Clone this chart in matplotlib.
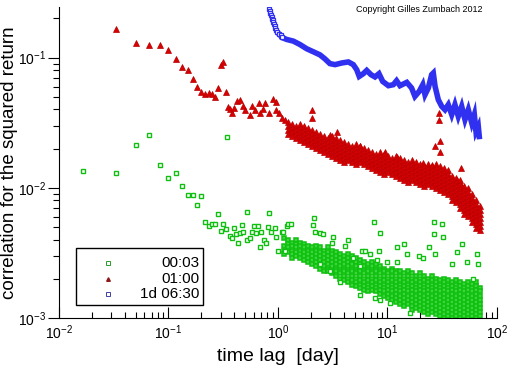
import numpy as np
import matplotlib
matplotlib.use("Agg")
import matplotlib.pyplot as plt
from matplotlib.patches import Rectangle

plt.rcParams["font.family"] = ["Liberation Sans", "DejaVu Sans"]
plt.rcParams["mathtext.fontset"] = "custom"
plt.rcParams["mathtext.rm"] = "Liberation Sans"
plt.rcParams["mathtext.default"] = "regular"

# --- 00:03 returns (green): sparse part and outliers
green_lag = [0.0167, 0.0333, 0.05, 0.0667, 0.0833, 0.1, 0.117, 0.133, 0.15, 0.167,
             0.183, 0.2, 0.217, 0.233, 0.25, 0.267, 0.283, 0.3, 0.317, 0.333,
             0.345, 0.367, 0.383, 0.4, 0.417, 0.433, 0.45, 0.467, 0.483, 0.517,
             0.525, 0.55, 0.575, 0.6, 0.633, 0.65, 0.683, 0.7, 0.75, 0.783,
             0.817, 0.833, 0.867, 0.933, 0.967, 1.0, 1.08, 1.1, 1.16, 1.2,
             1.24, 1.31, 2.1, 2.13, 2.18, 2.42, 2.59, 3.09, 3.2, 4.09,
             4.39, 7.57, 8.55, 5.81, 6.23, 8.36, 12.3, 14.2, 24.1, 26.6,
             31.3, 26.8, 31.9, 48.2, 43.4, 66.1, 52.9, 66.6, 60.0, 38.5,
             27.2, 19.5, 21.2, 15.0, 12.1, 10.0, 8.0, 6.92, 4.87, 5.6,
             3.68, 5.6, 8.54, 10.6, 16.0, 7.7, 3.0, 2.42]
green_corr = [0.0134, 0.0130, 0.0213, 0.0254, 0.0150, 0.0119, 0.0130, 0.0103, 0.0088, 0.0088,
              0.0074, 0.0086, 0.0055, 0.0051, 0.0053, 0.0053, 0.0063, 0.0047, 0.0053, 0.0048,
              0.0245, 0.0043, 0.0041, 0.0049, 0.0044, 0.0038, 0.0045, 0.0052, 0.0046, 0.0040,
              0.0065, 0.0041, 0.0046, 0.0051, 0.0045, 0.0051, 0.0035, 0.0046, 0.0040, 0.0038,
              0.0050, 0.0064, 0.0046, 0.0049, 0.0042, 0.0033, 0.0046, 0.0046, 0.0033, 0.0051,
              0.0053, 0.0053, 0.0052, 0.0059, 0.0046, 0.0045, 0.0044, 0.0038, 0.0042, 0.0036,
              0.0040, 0.0055, 0.0045, 0.0033, 0.0033, 0.0033, 0.0035, 0.0037, 0.0035, 0.0055,
              0.0053, 0.0044, 0.0042, 0.0037, 0.0032, 0.0031, 0.0027, 0.0026, 0.0020, 0.0026,
              0.0031, 0.0030, 0.0029, 0.0031, 0.0027, 0.0027, 0.0028, 0.0031, 0.0029, 0.0025,
              0.0019, 0.0015, 0.00137, 0.0013, 0.0011, 0.00143, 0.0023, 0.0026]

# lags (day) of the dense part, read as columns
band_lag = [1.13, 1.23, 1.34, 1.46, 1.59, 1.73, 1.88, 2.04, 2.22, 2.42,
            2.63, 2.86, 3.11, 3.39, 3.68, 4.0, 4.36, 4.74, 5.16, 5.6,
            6.1, 6.64, 7.22, 7.85, 8.54, 9.29, 10.1, 11.0, 12.0, 13.0,
            14.2, 15.4, 16.7, 18.2, 19.8, 21.5, 23.4, 25.5, 27.7, 30.2,
            32.8, 35.7, 38.8, 42.2, 45.9, 50.0, 54.4, 59.1, 64.3, 69.9]

green_band = [
    [.0041, .0036, .0033, .0031],
    [.0040, .0037, .0035, .0032],
    [.0038, .0036, .0033, .0031, .0029],
    [.0040, .0037, .0035, .0032, .0030],
    [.0038, .0036, .0033, .0031, .0029],
    [.0037, .0035, .0032, .0030, .0028],
    [.0036, .0033, .0031, .0029, .0027],
    [.0035, .0032, .0030, .0028, .0026],
    [.0036, .0033, .0031, .0029, .0027, .0025],
    [.0035, .0032, .0030, .0028, .0026, .0024],
    [.0033, .0031, .0029, .0027, .0025, .0023],
    [.0035, .0032, .0030, .0028, .0026, .0024, .0023],
    [.0033, .0031, .0029, .0027, .0025, .0023, .0022],
    [.0032, .0030, .0028, .0026, .0024, .0023, .0021],
    [.0031, .0029, .0027, .0025, .0023, .0022, .0020],
    [.0030, .0028, .0026, .0024, .0023, .0021, .00196],
    [.0031, .0029, .0027, .0025, .0023, .0022, .0020, .0019],
    [.0030, .0028, .0026, .0024, .0023, .0021, .00196, .0018],
    [.0029, .0027, .0025, .0023, .0022, .0020, .0019, .00176],
    [.0028, .0026, .0024, .0023, .0021, .00196, .0018, .0017],
    [.0027, .0025, .0023, .0022, .0020, .0019, .00176, .00164],
    [.0026, .0024, .0023, .0021, .00196, .0018, .0017, .0016],
    [.0027, .0025, .0023, .0022, .0020, .0019, .00176, .00164],
    [.0026, .0024, .0023, .0021, .00196, .0018, .0017, .0016],
    [.0025, .0023, .0022, .0020, .0019, .00176, .00164, .00153],
    [.0024, .0023, .0021, .00196, .0018, .0017, .0016, .00148],
    [.0023, .0022, .0020, .0019, .00176, .00164, .00153, .00143],
    [.0024, .0023, .0021, .00196, .0018, .0017, .0016, .00148, .00138],
    [.0023, .0022, .0020, .0019, .00176, .00164, .00153, .00143, .00133],
    [.0023, .0021, .00196, .0018, .0017, .0016, .00148, .00138, .00128],
    [.0022, .0020, .0019, .00176, .00164, .00153, .00143, .00133, .00124],
    [.0023, .0021, .00196, .0018, .0017, .0016, .00148, .00138, .00128],
    [.0022, .0020, .0019, .00176, .00164, .00153, .00143, .00133, .00124, .00115],
    [.0021, .00196, .0018, .0017, .0016, .00148, .00138, .00128, .00119],
    [.0022, .0020, .0019, .00176, .00164, .00153, .00143, .00133, .00124, .00115],
    [.0021, .00196, .0018, .0017, .0016, .00148, .00138, .00128, .00119, .00111],
    [.0020, .0019, .00176, .00164, .00153, .00143, .00133, .00124, .00115, .00107],
    [.0021, .00196, .0018, .0017, .0016, .00148, .00138, .00128, .00119, .00111],
    [.0020, .0019, .00176, .00164, .00153, .00143, .00133, .00124, .00115, .00107],
    [.00196, .0018, .0017, .0016, .00148, .00138, .00128, .00119, .00111, .00103],
    [.0020, .0019, .00176, .00164, .00153, .00143, .00133, .00124, .00115, .00107, .0010],
    [.00196, .0018, .0017, .0016, .00148, .00138, .00128, .00119, .00111, .00103],
    [.0019, .00176, .00164, .00153, .00143, .00133, .00124, .00115, .00107, .0010],
    [.00196, .0018, .0017, .0016, .00148, .00138, .00128, .00119, .00111, .00103],
    [.0019, .00176, .00164, .00153, .00143, .00133, .00124, .00115, .00107, .0010],
    [.00182, .0017, .0016, .00148, .00138, .00128, .00119, .00111, .00103],
    [.0019, .00176, .00164, .00153, .00143, .00133, .00124, .00115, .00107, .0010],
    [.00182, .0017, .0016, .00148, .00138, .00128, .00119, .00111, .00103],
    [.00189, .00176, .00164, .00153, .00143, .00133, .00124, .00115, .00107, .0010],
    [.0017, .0016, .00148, .00138, .00128, .00119, .00111, .00103],
]

# --- 01:00 returns (red): sparse part and outliers
red_lag = [0.0333, 0.05, 0.0667, 0.0833, 0.1, 0.117, 0.133, 0.15, 0.167, 0.183,
           0.2, 0.217, 0.233, 0.25, 0.267, 0.283, 0.3, 0.317, 0.333, 0.35,
           0.367, 0.383, 0.4, 0.42, 0.45, 0.483, 0.5, 0.55, 0.583, 0.617,
           0.667, 0.683, 0.733, 0.767, 0.833, 0.9, 0.95, 0.967, 1.03, 1.08,
           1.16, 2.03, 2.06, 3.49, 2.98, 5.6, 9.4, 12.1, 17.2, 21.3,
           25.3, 43.3, 46.5, 56.6, 29.5, 29.5, 27.2, 30.0, 30.0, 46.9]
red_corr = [0.166, 0.129, 0.125, 0.125, 0.114, 0.098, 0.085, 0.080, 0.069, 0.060,
            0.0545, 0.0525, 0.0535, 0.0525, 0.050, 0.0585, 0.088, 0.093, 0.0545, 0.0417,
            0.040, 0.0376, 0.041, 0.0461, 0.047, 0.0422, 0.0398, 0.0365, 0.0422, 0.0398,
            0.0449, 0.0376, 0.0403, 0.0449, 0.0376, 0.0481, 0.0453, 0.0398, 0.0376, 0.0344,
            0.0334, 0.0398, 0.0344, 0.027, 0.0255, 0.0208, 0.019, 0.0174, 0.0146, 0.0155,
            0.015, 0.0115, 0.0105, 0.0081, 0.0376, 0.033, 0.0208, 0.0227, 0.019, 0.0142]

red_band = [
    [.0322, .0300, .0279, .0260],
    [.0311, .0289, .0269, .0251],
    [.0300, .0279, .0260, .0243],
    [.0311, .0289, .0269, .0251, .0234],
    [.0300, .0279, .0260, .0243, .0226],
    [.0289, .0269, .0251, .0234, .0218],
    [.0279, .0260, .0243, .0226, .0210],
    [.0269, .0251, .0234, .0218, .0203],
    [.0260, .0243, .0226, .0210, .0196],
    [.0251, .0234, .0218, .0203, .0189],
    [.0243, .0226, .0210, .0196, .0183],
    [.0251, .0234, .0218, .0203, .0189, .0176],
    [.0243, .0226, .0210, .0196, .0183, .0170],
    [.0234, .0218, .0203, .0189, .0176, .0164],
    [.0226, .0210, .0196, .0183, .0170, .0158],
    [.0218, .0203, .0189, .0176, .0164],
    [.0210, .0196, .0183, .0170, .0158],
    [.0218, .0203, .0189, .0176, .0164, .0153],
    [.0210, .0196, .0183, .0170, .0158],
    [.0203, .0189, .0176, .0164, .0153],
    [.0196, .0183, .0170, .0158, .0148],
    [.0189, .0176, .0164, .0153, .0143],
    [.0183, .0170, .0158, .0148, .0138],
    [.0189, .0176, .0164, .0153, .0143, .0133],
    [.0183, .0170, .0158, .0148, .0138, .0128],
    [.0176, .0164, .0153, .0143, .0133],
    [.0170, .0158, .0148, .0138, .0128],
    [.0176, .0164, .0153, .0143, .0133, .0124],
    [.0170, .0158, .0148, .0138, .0128, .0119],
    [.0164, .0153, .0143, .0133, .0124, .0115],
    [.0158, .0148, .0138, .0128, .0119, .0111],
    [.0164, .0153, .0143, .0133, .0124, .0115],
    [.0158, .0148, .0138, .0128, .0119, .0111],
    [.0153, .0143, .0133, .0124, .0115, .0107],
    [.0148, .0138, .0128, .0119, .0111, .0104],
    [.0153, .0143, .0133, .0124, .0115, .0107],
    [.0148, .0138, .0128, .0119, .0111, .0104],
    [.0153, .0143, .0133, .0124, .0115, .0107, .0100],
    [.0148, .0138, .0128, .0119, .0111, .0104, .00965],
    [.0143, .0133, .0124, .0115, .0107, .0100, .0093],
    [.0138, .0128, .0119, .0111, .0104, .00965, .00899],
    [.0124, .0115, .0107, .0100, .0093, .0087, .0081],
    [.0119, .0111, .0104, .00965, .00899, .00838, .0078],
    [.0115, .0107, .0100, .0093, .0087, .0081, .0075, .0070],
    [.0104, .00965, .00899, .00838, .0078, .00727, .00677, .00631],
    [.0100, .0093, .0087, .0081, .0075, .0070, .0065, .0061],
    [.00899, .00838, .0078, .00727, .00677, .00631, .00588, .00548],
    [.0081, .0075, .0070, .0065, .0061, .0057, .0053, .0049],
    [.00727, .00677, .00631, .00588, .00548, .0051, .00475],
]

# --- 1d 06:30 returns (blue)
blue_lag = [0.833, 0.845, 0.851, 0.863, 0.875, 0.887, 0.895, 0.906, 0.918, 0.931,
            0.944, 0.958, 0.984, 1.014, 1.057, 1.08, 1.2, 1.38, 1.59, 1.83,
            2.1, 2.42, 2.69, 2.98, 3.32, 3.82, 4.39, 4.87, 5.23, 5.52,
            6.01, 6.46, 7.07, 7.69, 8.36, 9.04, 10.2, 11.3, 12.1, 13.0,
            15.0, 16.6, 17.8, 19.5, 21.0, 22.0, 23.6, 25.3, 26.2, 27.2,
            29.1, 31.3, 33.5, 35.9, 38.6, 41.3, 44.3, 47.6, 51.0, 54.7,
            58.8, 62.1, 64.3, 67.5, 68.9]
blue_corr = [0.237, 0.227, 0.221, 0.213, 0.206, 0.198, 0.193, 0.187, 0.182, 0.176,
             0.170, 0.164, 0.158, 0.153, 0.148, 0.143, 0.138, 0.134, 0.126, 0.117,
             0.111, 0.105, 0.0977, 0.090, 0.0884, 0.091, 0.0927, 0.0884, 0.0809, 0.0718,
             0.0753, 0.0798, 0.074, 0.0711, 0.0753, 0.0657, 0.0609, 0.062, 0.0665, 0.0609,
             0.0646, 0.0585, 0.0504, 0.0551, 0.062, 0.0519, 0.0585, 0.074, 0.0762, 0.0601,
             0.0475, 0.0422, 0.0398, 0.0435, 0.0365, 0.0435, 0.0354, 0.0422, 0.0334, 0.0398,
             0.0315, 0.0365, 0.0271, 0.0296, 0.0248]

labels = ["00:03", "01:00", "1d 06:30"]
green, red, blue = "#10c010", "#d80000", "#3030f0"


def flatten(lags, cols):
    xs, ys = [], []
    for lag, col in zip(lags, cols):
        xs += [lag] * len(col)
        ys += col
    return xs, ys


gx, gy = flatten(band_lag, green_band)
rx, ry = flatten(band_lag[1:], red_band)

fig = plt.figure(figsize=(5.12, 3.66), dpi=100)
ax = fig.add_axes([0.1152, 0.1311, 0.8555, 0.8498])

# green: dense band first (overlapping squares read as a solid mass), then sparse points
ax.plot(gx, gy, ls="none", marker="s", ms=3.4, mew=1.1, mfc="#3ad63a", mec=green)
ax.plot(green_lag, green_corr, ls="none", marker="s", ms=3.3, mew=1.0,
        mfc="white", mec=green)
ax.plot(red_lag + rx, red_corr + ry, ls="none", marker="^", ms=5.0, mew=0.5,
        color=red, mec="#b80000")
ax.plot(blue_lag[13:], blue_corr[13:], color=blue, lw=4.0, solid_joinstyle="miter")
ax.plot(blue_lag[:16], blue_corr[:16], ls="none", marker="s", ms=3.0, mew=0.9,
        mfc="white", mec=blue)

ax.set_xscale("log")
ax.set_yscale("log")
ax.set_xlim(1e-2, 1e2)
ax.set_ylim(1e-3, 0.245)
for s in ["top", "right"]:
    ax.spines[s].set_visible(False)
ax.tick_params(axis="y", which="major", length=8, width=0.8, labelsize=10, pad=1)
ax.tick_params(axis="y", which="minor", length=4, width=0.8)
ax.tick_params(axis="x", which="major", length=8, width=0.8, labelsize=10,
               direction="in", pad=4)
ax.tick_params(axis="x", which="minor", length=4, width=0.8, direction="in")
ax.set_xlabel("time lag  [day]", fontsize=14)
ax.set_ylabel("correlation for the squared return", fontsize=13.5)
ax.xaxis.set_label_coords(0.5, -0.095)
ax.yaxis.set_label_coords(-0.093, 0.5)

# legend box
ax.add_patch(Rectangle((0.039, 0.042), 0.29, 0.183, transform=ax.transAxes,
                       fill=False, lw=1.0, ec="black"))
leg_y = [0.176, 0.124, 0.077]
leg_style = [dict(marker="s", ms=2.2, mew=0.7, mfc="white", color="#2a9a2a"),
             dict(marker="^", ms=2.6, color="#8b1a1a"),
             dict(marker="s", ms=2.2, mew=0.7, mfc="white", color="#4040a0")]
for yy, lab, st in zip(leg_y, labels, leg_style):
    ax.plot([0.112], [yy], transform=ax.transAxes, ls="none", **st)
    ax.text(0.32, yy, lab, transform=ax.transAxes, ha="right", va="center",
            fontsize=11)

fig.text(0.818, 0.985, "Copyright Gilles Zumbach 2012", ha="center", va="top",
         fontsize=6.5)

fig.savefig("out.png", dpi=100)
